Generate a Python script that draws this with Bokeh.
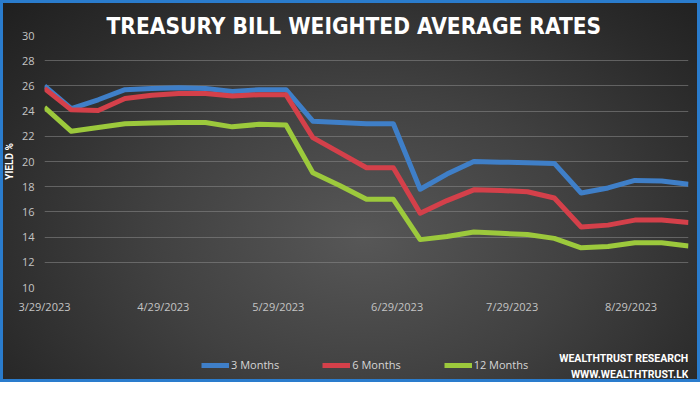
import pandas as pd
from bokeh.plotting import figure
from bokeh.layouts import column
from bokeh.models import Range1d, FixedTicker, DatetimeTickFormatter, Label, Legend, LegendItem
from bokeh.embed import file_html
from bokeh.resources import INLINE

# ---- data (weekly auction dates) ----
dates = ["2023-03-29", "2023-04-05", "2023-04-12", "2023-04-19", "2023-04-26",
         "2023-05-03", "2023-05-10", "2023-05-17", "2023-05-24", "2023-05-31",
         "2023-06-07", "2023-06-14", "2023-06-21", "2023-06-28", "2023-07-05",
         "2023-07-12", "2023-07-19", "2023-07-26", "2023-08-02", "2023-08-09",
         "2023-08-16", "2023-08-23", "2023-08-30", "2023-09-06", "2023-09-13"]
three_months = [26.0, 24.2, 24.9, 25.7, 25.8, 25.85, 25.8, 25.55, 25.7, 25.7,
                23.2, 23.1, 23.0, 23.0, 17.8, 19.0, 20.0, 19.95, 19.9, 19.85,
                17.5, 17.9, 18.5, 18.45, 18.2]
six_months = [25.8, 24.1, 24.05, 25.0, 25.25, 25.4, 25.4, 25.2, 25.3, 25.3,
              21.9, 20.7, 19.5, 19.5, 15.9, 16.9, 17.75, 17.7, 17.6, 17.1,
              14.8, 14.95, 15.35, 15.35, 15.15]
twelve_months = [24.3, 22.4, 22.7, 23.0, 23.05, 23.1, 23.1, 22.75, 22.95, 22.9,
                 19.1, 18.1, 17.0, 17.0, 13.8, 14.05, 14.4, 14.3, 14.2, 13.9,
                 13.15, 13.25, 13.55, 13.55, 13.3]
series_names = ["3 Months", "6 Months", "12 Months"]
series_colors = ["#3f7fc8", "#d4404a", "#9cc93c"]
x_tick_dates = ["2023-03-29", "2023-04-29", "2023-05-29", "2023-06-29", "2023-07-29", "2023-08-29"]
y_ticks = [10, 12, 14, 16, 18, 20, 22, 24, 26, 28, 30]
title_text = "TREASURY BILL WEIGHTED AVERAGE RATES"
y_label = "YIELD %"
credit_lines = ["WEALTHTRUST RESEARCH", "WWW.WEALTHTRUST.LK"]

x = pd.to_datetime(dates)
all_series = [three_months, six_months, twelve_months]

# ---------------- main chart ----------------
W, H_MAIN, H_FOOT = 700, 316, 66
p = figure(width=W, height=H_MAIN, output_backend="svg", toolbar_location=None,
           x_axis_type="datetime",
           x_range=Range1d(x[0], x[-1]), y_range=Range1d(min(y_ticks), max(y_ticks)),
           min_border_left=43, min_border_right=12, min_border_top=35, min_border_bottom=27)
p.border_fill_color = None
p.background_fill_color = None
p.outline_line_color = None

p.title.text = title_text
p.title.align = "left"
p.title.offset = 62
p.title.vertical_align = "bottom"
p.title.standoff = -6
p.title.text_font = "DejaVu Sans Condensed"
p.title.text_font_style = "bold"
p.title.text_font_size = "22.5px"
p.title.text_color = "white"

tick_ms = [pd.Timestamp(d).value // 10**6 for d in x_tick_dates]
p.xaxis.ticker = FixedTicker(ticks=tick_ms)
p.xaxis.formatter = DatetimeTickFormatter(days="%-m/%-d/%Y", months="%-m/%-d/%Y")
p.yaxis.ticker = FixedTicker(ticks=y_ticks)
for ax in (p.xaxis, p.yaxis):
    ax.axis_line_color = None
    ax.major_tick_line_color = None
    ax.minor_tick_line_color = None
    ax.major_tick_out = 0
    ax.major_tick_in = 0
    ax.minor_tick_out = 0
    ax.minor_tick_in = 0
    ax.major_label_text_color = "#c4c4c4"
    ax.major_label_text_font = "Open Sans"
    ax.major_label_text_font_size = "11px"
p.xaxis.major_label_standoff = 11
p.yaxis.major_label_standoff = 10
p.yaxis.axis_label = y_label
p.yaxis.axis_label_standoff = 4
p.yaxis.axis_label_text_font = "Roboto"
p.yaxis.axis_label_text_font_style = "bold"
p.yaxis.axis_label_text_font_size = "10px"
p.yaxis.axis_label_text_color = "white"
p.xgrid.grid_line_color = None
p.ygrid.grid_line_color = "#8a8a8a"
p.ygrid.grid_line_alpha = 0.55
p.ygrid.grid_line_width = 1

for vals, col in zip(all_series, series_colors):
    p.line(x, vals, line_width=5, line_color=col, line_join="round")

# ---------------- footer (legend + credits) ----------------
f = figure(width=W, height=H_FOOT, output_backend="svg", toolbar_location=None,
           x_axis_type="datetime", x_axis_location=None, y_axis_location=None,
           x_range=Range1d(0, 1), y_range=Range1d(0, 1),
           min_border=0)
f.border_fill_color = None
f.background_fill_color = None
f.outline_line_color = None
f.grid.grid_line_color = None

# legend sample lines (same series; outside the footer's view)
foot_renderers = []
for vals, col in zip(all_series, series_colors):
    foot_renderers.append(f.line(x, vals, line_width=5, line_color=col))

legend = Legend(items=[LegendItem(label=n, renderers=[r]) for n, r in zip(series_names, foot_renderers)],
                orientation="horizontal", location=(157, 10),
                background_fill_alpha=0, border_line_alpha=0,
                label_text_color="#d6d6d6", label_text_font="Open Sans",
                label_text_font_size="11px", glyph_width=28, glyph_height=12,
                label_standoff=2, spacing=43, padding=0, margin=0)
f.add_layout(legend, "center")

# footer frame is aligned with the main frame (left edge at x=43)
for i, line in enumerate(credit_lines):
    f.add_layout(Label(x=644, y=24 - 16 * i, x_units="screen", y_units="screen", text=line,
                       text_align="right", text_baseline="alphabetic",
                       text_font="Roboto", text_font_style="bold",
                       text_font_size="10.5px", text_color="white"))

page = column(p, f, spacing=0, styles={
    "background": "radial-gradient(ellipse 75% 95% at 52% 62%, #575757 0%, #414141 40%, #2a2a2a 75%, #1c1c1c 100%)",
    "outline": "3px solid #2a7ccd",
    "outline-offset": "-3px",
})

open("out.html", "w").write(file_html(page, INLINE))
